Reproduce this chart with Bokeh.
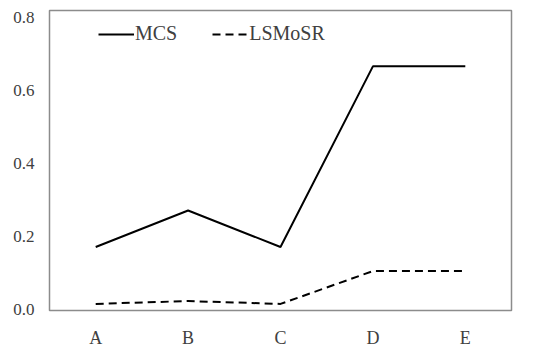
from bokeh.plotting import figure
from bokeh.models import Range1d, FactorRange, NumeralTickFormatter, FixedTicker, Legend, LegendItem
from bokeh.embed import file_html
from bokeh.resources import INLINE

categories = ["A", "B", "C", "D", "E"]
mcs = [0.17, 0.27, 0.17, 0.665, 0.665]
lsmosr = [0.014, 0.022, 0.014, 0.104, 0.104]
y_ticks = [0.0, 0.2, 0.4, 0.6, 0.8]

FONT = "Liberation Serif, serif"

p = figure(x_range=FactorRange(*categories), y_range=Range1d(-0.004, 0.818),
           width=534, height=352, output_backend="svg", toolbar_location=None,
           min_border_left=49, min_border_right=23, min_border_top=10, min_border_bottom=42)

r1 = p.line(categories, mcs, line_color="black", line_width=2)
r2 = p.line(categories, lsmosr, line_color="black", line_width=2, line_dash="8 5")

legend = Legend(items=[LegendItem(label="MCS", renderers=[r1]),
                       LegendItem(label="LSMoSR", renderers=[r2])],
                orientation="horizontal", location=(49, 265),
                border_line_color=None, background_fill_alpha=0,
                label_text_font=FONT, label_text_font_size="20px",
                label_text_color="#404040", glyph_width=36, label_standoff=1,
                spacing=35, padding=0, margin=0)
p.add_layout(legend)

p.grid.visible = False
p.outline_line_color = "#8c8c8c"
p.outline_line_width = 1.5

for ax in (p.xaxis, p.yaxis):
    ax.axis_line_color = None
    ax.major_tick_line_color = None
    ax.minor_tick_line_color = None
    ax.major_tick_out = 0
    ax.major_tick_in = 0
    ax.minor_tick_out = 0
    ax.major_label_text_font = FONT
    ax.major_label_text_color = "#404040"

p.yaxis.major_label_text_font_size = "17px"
p.xaxis.major_label_text_font_size = "18px"
p.yaxis.ticker = FixedTicker(ticks=y_ticks)
p.yaxis.formatter = NumeralTickFormatter(format="0.0")
p.yaxis.major_label_standoff = 15
p.xaxis.major_label_standoff = 17

open("out.html", "w").write(file_html(p, INLINE))
